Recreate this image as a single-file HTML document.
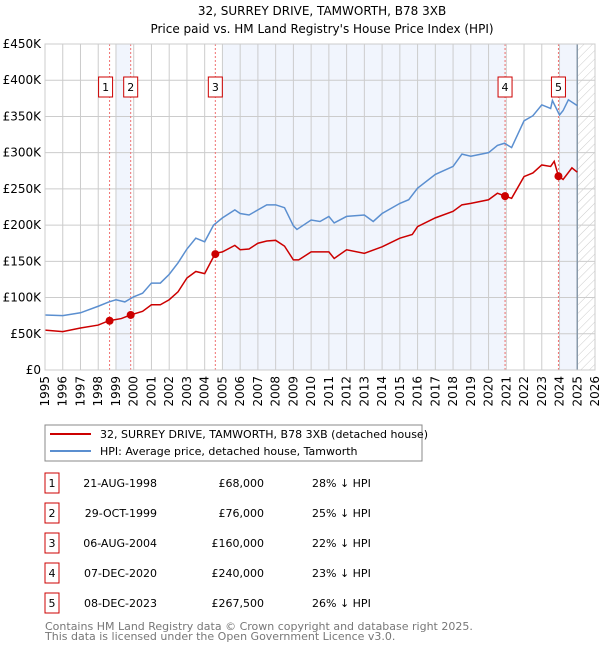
<!DOCTYPE html>
<html><head><meta charset="utf-8"><style>
body{margin:0;background:#fff;font-family:"DejaVu Sans","Liberation Sans",sans-serif;}
svg text{font-family:"DejaVu Sans","Liberation Sans",sans-serif;}
</style></head><body>
<svg id="c" width="600" height="650" xmlns="http://www.w3.org/2000/svg">
<defs><pattern id="hatch" width="6" height="6" patternUnits="userSpaceOnUse" patternTransform="rotate(45)"><line x1="0" y1="0" x2="0" y2="6" stroke="#ccc" stroke-width="1"/></pattern></defs>
<text x="322" y="15" text-anchor="middle" font-size="12">32, SURREY DRIVE, TAMWORTH, B78 3XB</text>
<text x="322" y="33" text-anchor="middle" font-size="12">Price paid vs. HM Land Registry's House Price Index (HPI)</text>
<g id="plot"></g>
<g>
<rect x="45" y="425" width="377" height="36" fill="#fff" stroke="#888"/>
<line x1="50" y1="434" x2="91" y2="434" stroke="#cc0000" stroke-width="2"/>
<text x="100" y="438" font-size="11">32, SURREY DRIVE, TAMWORTH, B78 3XB (detached house)</text>
<line x1="50" y1="451" x2="91" y2="451" stroke="#5b8fd0" stroke-width="2"/>
<text x="100" y="455" font-size="11">HPI: Average price, detached house, Tamworth</text>
</g>
<g id="table"></g>
<text x="45" y="630" font-size="11" fill="#777">Contains HM Land Registry data © Crown copyright and database right 2025.</text>
<text x="45" y="640" font-size="11" fill="#777">This data is licensed under the Open Government Licence v3.0.</text>
</svg>
<script>
const hpiX=[1995,1996,1997,1998,1998.6,1999,1999.5,2000,2000.5,2001,2001.5,2002,2002.5,2003,2003.5,2004,2004.5,2005,2005.7,2006,2006.5,2007,2007.5,2008,2008.5,2009,2009.2,2010,2010.5,2011,2011.3,2012,2013,2013.5,2014,2015,2015.5,2016,2017,2018,2018.5,2019,2020,2020.5,2020.9,2021.3,2022,2022.5,2023,2023.5,2023.6,2024,2024.2,2024.5,2025];
const hpiY=[76,75,79,88,94,97,94,101,106,120,120,132,148,167,182,177,200,210,221,216,214,221,228,228,224,199,194,207,205,212,203,212,214,205,216,230,235,251,270,281,298,295,300,310,313,307,344,351,366,361,372,352,358,373,365];
const redX=[1995,1996,1997,1998,1998.6,1999.3,1999.83,2000.5,2001,2001.5,2002,2002.5,2003,2003.5,2004,2004.6,2005,2005.7,2006,2006.5,2007,2007.5,2008,2008.5,2009,2009.3,2010,2011,2011.3,2012,2013,2014,2015,2015.7,2016,2017,2018,2018.5,2019,2020,2020.5,2020.93,2021.3,2022,2022.5,2023,2023.5,2023.7,2023.94,2024.2,2024.7,2025];
const redY=[55,53,58,62,68,71,76,81,90,90,97,108,127,136,133,161,163,172,166,167,175,178,179,171,152,152,163,163,154,166,161,170,182,187,198,210,219,228,230,235,244,240,237,267,272,283,281,288,267.5,263,279,273];
const saleX=[1998.64,1999.83,2004.6,2020.93,2023.94];
const saleY=[68,76,160,240,267.5];
const saleLabels=["1","2","3","4","5"];
const saleDates=["21-AUG-1998","29-OCT-1999","06-AUG-2004","07-DEC-2020","08-DEC-2023"];
const salePrices=["£68,000","£76,000","£160,000","£240,000","£267,500"];
const saleHpi=["28% ↓ HPI","25% ↓ HPI","22% ↓ HPI","23% ↓ HPI","26% ↓ HPI"];
const yTicks=[0,50,100,150,200,250,300,350,400,450];
const yTickLabels=["£0","£50K","£100K","£150K","£200K","£250K","£300K","£350K","£400K","£450K"];
const xTicks=[1995,1996,1997,1998,1999,2000,2001,2002,2003,2004,2005,2006,2007,2008,2009,2010,2011,2012,2013,2014,2015,2016,2017,2018,2019,2020,2021,2022,2023,2024,2025,2026];
const x0=45,x1=595,yTop=44,yBot=370;
const X=v=>x0+(v-1995)/(2026-1995)*(x1-x0);
const Y=v=>yBot-v/450*(yBot-yTop);
const NS="http://www.w3.org/2000/svg";
const plot=document.getElementById('plot');
function mk(tag,attrs,parent){const e=document.createElementNS(NS,tag);for(const k in attrs)e.setAttribute(k,attrs[k]);(parent||plot).appendChild(e);return e;}
// bands
const bands=[[1999,saleX[1]],[2005,saleX[3]],[2024,2025]];
bands.forEach(b=>{const r=mk('rect',{x:X(b[0]),y:yTop,width:X(b[1])-X(b[0]),height:yBot-yTop,fill:'#eef3fc',opacity:0.8});

});
const h=mk('rect',{x:X(2025),y:yTop,width:x1-X(2025),height:yBot-yTop,fill:'url(#hatch)'});


// grid
yTicks.forEach((t,i)=>{const l=mk('line',{x1:x0,x2:x1,y1:Y(t),y2:Y(t),stroke:'#ccc','stroke-width':1});


const tx=mk('text',{x:x0-4,y:Y(t)+4,'text-anchor':'end','font-size':12});tx.textContent=yTickLabels[i];

});
xTicks.forEach(t=>{const l=mk('line',{x1:X(t),x2:X(t),y1:yTop,y2:yBot,stroke:'#ccc','stroke-width':1});


const tx=mk('text',{x:0,y:0,'text-anchor':'end','font-size':12,transform:`translate(${X(t)+4},${yBot+6}) rotate(-90)`});tx.textContent=t;

});
const cur=mk('line',{x1:X(2025),x2:X(2025),y1:yTop,y2:yBot,stroke:'#8899aa','stroke-width':1.5});


// sale markers lines
saleX.forEach((s,i)=>{const l=mk('line',{x1:X(s),x2:X(s),y1:yTop,y2:yBot,stroke:'#f07070','stroke-width':1,'stroke-dasharray':'2,2'});


const bx=i==0?X(s)-4:X(s);
const r=mk('rect',{x:bx-7,y:77,width:14,height:20,fill:'#fff',stroke:'#cc0000'});


const t=mk('text',{x:bx,y:91,'text-anchor':'middle','font-size':11});t.textContent=saleLabels[i];

});
// lines
const hp=mk('polyline',{points:hpiX.map((x,i)=>X(x)+','+Y(hpiY[i])).join(' '),fill:'none',stroke:'#5b8fd0','stroke-width':1.5});


const rp=mk('polyline',{points:redX.map((x,i)=>X(x)+','+Y(redY[i])).join(' '),fill:'none',stroke:'#cc0000','stroke-width':1.5});


saleX.forEach((s,i)=>{const c=mk('circle',{cx:X(s),cy:Y(saleY[i]),r:4,fill:'#cc0000'});

});
const fr=mk('rect',{x:x0,y:yTop,width:x1-x0,height:yBot-yTop,fill:'none',stroke:'#ccc'});


// table
const tb=document.getElementById('table');
saleLabels.forEach((lab,i)=>{const cy=483+i*30;
const r=mk('rect',{x:45,y:cy-10,width:14,height:20,fill:'#fff',stroke:'#cc0000'},tb);


const cols=[[52,'middle',lab,'row-number'],[157,'end',saleDates[i],'row-date'],[264,'end',salePrices[i],'row-price'],[312,'start',saleHpi[i],'row-hpi']];
cols.forEach(c=>{const t=mk('text',{x:c[0],y:cy+4,'text-anchor':c[1],'font-size':11},tb);t.textContent=c[2];

});});
</script>
</body></html>
